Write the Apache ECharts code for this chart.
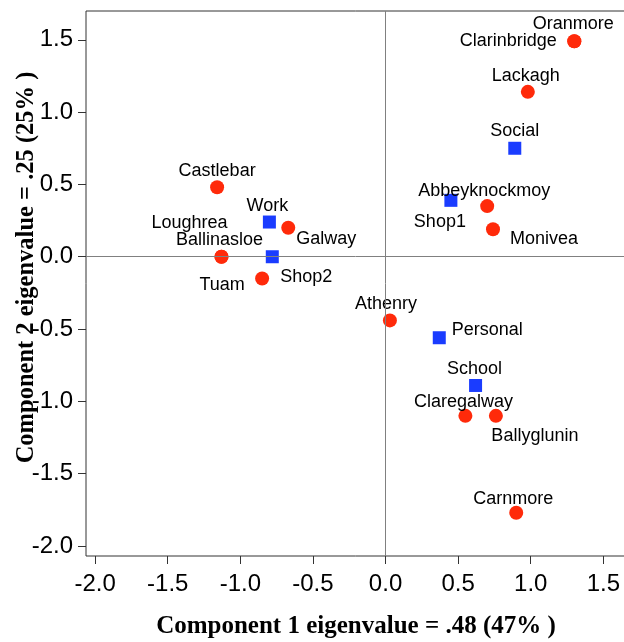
<!DOCTYPE html>
<html>
<head>
<meta charset="utf-8">
<script src="https://cdn.jsdelivr.net/npm/echarts@6/dist/echarts.min.js"></script>
<style>
  html, body { margin: 0; padding: 0; background: #fff; }
  #main { width: 624px; height: 642px; }
</style>
</head>
<body>
<div id="main"></div>
<script>
// towns (red circles)
const towns = ['Oranmore', 'Clarinbridge', 'Lackagh', 'Abbeyknockmoy', 'Monivea', 'Castlebar',
  'Galway', 'Loughrea', 'Ballinasloe', 'Tuam', 'Athenry', 'Claregalway', 'Ballyglunin', 'Carnmore'];
const townX = [1.30, 1.30, 0.98, 0.70, 0.74, -1.16, -0.67, -1.13, -1.13, -0.85, 0.03, 0.55, 0.76, 0.90];
const townY = [1.49, 1.49, 1.14, 0.35, 0.19, 0.48, 0.20, 0.00, 0.00, -0.15, -0.44, -1.10, -1.10, -1.77];

// trip purposes (blue squares)
const purposes = ['Social', 'Shop1', 'Work', 'Shop2', 'Personal', 'School'];
const purposeX = [0.89, 0.45, -0.80, -0.78, 0.37, 0.62];
const purposeY = [0.75, 0.39, 0.24, 0.00, -0.56, -0.89];

const tickValues = [-2.0, -1.5, -1.0, -0.5, 0.0, 0.5, 1.0, 1.5];

// where each label sits relative to its marker
const labelOffset = {
  Oranmore: [-1, -17], Clarinbridge: [-66, 0], Lackagh: [-2, -16], Abbeyknockmoy: [-3, -15],
  Monivea: [51, 10], Castlebar: [0, -16], Galway: [38, 11], Loughrea: [-32, -34],
  Ballinasloe: [-2, -17], Tuam: [-40, 7], Athenry: [-4, -16], Claregalway: [-2, -14],
  Ballyglunin: [39, 20], Carnmore: [-3, -14],
  Social: [0, -17], Shop1: [-11, 22], Work: [-2, -16], Shop2: [34, 20],
  Personal: [48, -8], School: [-1, -16]
};

function points(names, xs, ys) {
  return names.map((n, i) => ({
    name: n,
    value: [xs[i], ys[i]],
    label: { offset: labelOffset[n] }
  }));
}

const dom = document.getElementById('main');
const chart = echarts.init(dom);

const pointLabel = {
  show: true,
  position: 'inside',
  formatter: '{b}',
  color: '#000',
  fontFamily: 'Liberation Sans',
  fontSize: 18
};

const axisCommon = {
  type: 'value',
  axisLine: { show: false, onZero: false },
  splitLine: { show: false },
  axisTick: { show: true, length: 8, customValues: tickValues, lineStyle: { color: '#333', width: 1 } },
  axisLabel: {
    customValues: tickValues,
    formatter: v => v.toFixed(1),
    color: '#000',
    fontFamily: 'Liberation Sans',
    fontSize: 24
  },
  nameLocation: 'middle',
  nameMoveOverlap: false,
  nameTextStyle: { fontFamily: 'Liberation Serif', fontWeight: 'bold', fontSize: 25, color: '#000' }
};

chart.setOption({
  animation: false,
  grid: {
    left: 86, top: 11, right: -2, bottom: 86,
    outerBoundsMode: 'none',
    containLabel: false,
    show: true, borderColor: '#333', borderWidth: 1
  },
  xAxis: Object.assign({}, axisCommon, {
    min: -2.063, max: 1.656,
    name: 'Component 1 eigenvalue = .48 (47% )',
    nameGap: 58,
    axisLabel: Object.assign({}, axisCommon.axisLabel, { margin: 16 })
  }),
  yAxis: Object.assign({}, axisCommon, {
    min: -2.069, max: 1.699,
    name: 'Component 2 eigenvalue = .25 (25% )',
    nameGap: 47,
    nameTextStyle: Object.assign({}, axisCommon.nameTextStyle, { fontSize: 24.5, padding: [0, 0, 0, 32] }),
    axisLabel: Object.assign({}, axisCommon.axisLabel, { margin: 13 })
  }),
  series: [
    {
      type: 'scatter',
      data: [],
      z: 1,
      markLine: {
        silent: true,
        symbol: 'none',
        label: { show: false },
        lineStyle: { color: '#808080', width: 1, type: 'solid' },
        data: [{ xAxis: 0 }, { yAxis: 0 }]
      }
    },
    {
      name: 'Towns',
      type: 'scatter',
      symbol: 'circle',
      symbolSize: 14,
      z: 3,
      itemStyle: { color: '#ff2a0a', opacity: 1 },
      label: pointLabel,
      emphasis: { disabled: true },
      data: points(towns, townX, townY)
    },
    {
      name: 'Purposes',
      type: 'scatter',
      symbol: 'rect',
      symbolSize: 13,
      z: 3,
      itemStyle: { color: '#1a3cff', opacity: 1 },
      label: pointLabel,
      emphasis: { disabled: true },
      data: points(purposes, purposeX, purposeY)
    }
  ]
});
</script>
</body>
</html>
